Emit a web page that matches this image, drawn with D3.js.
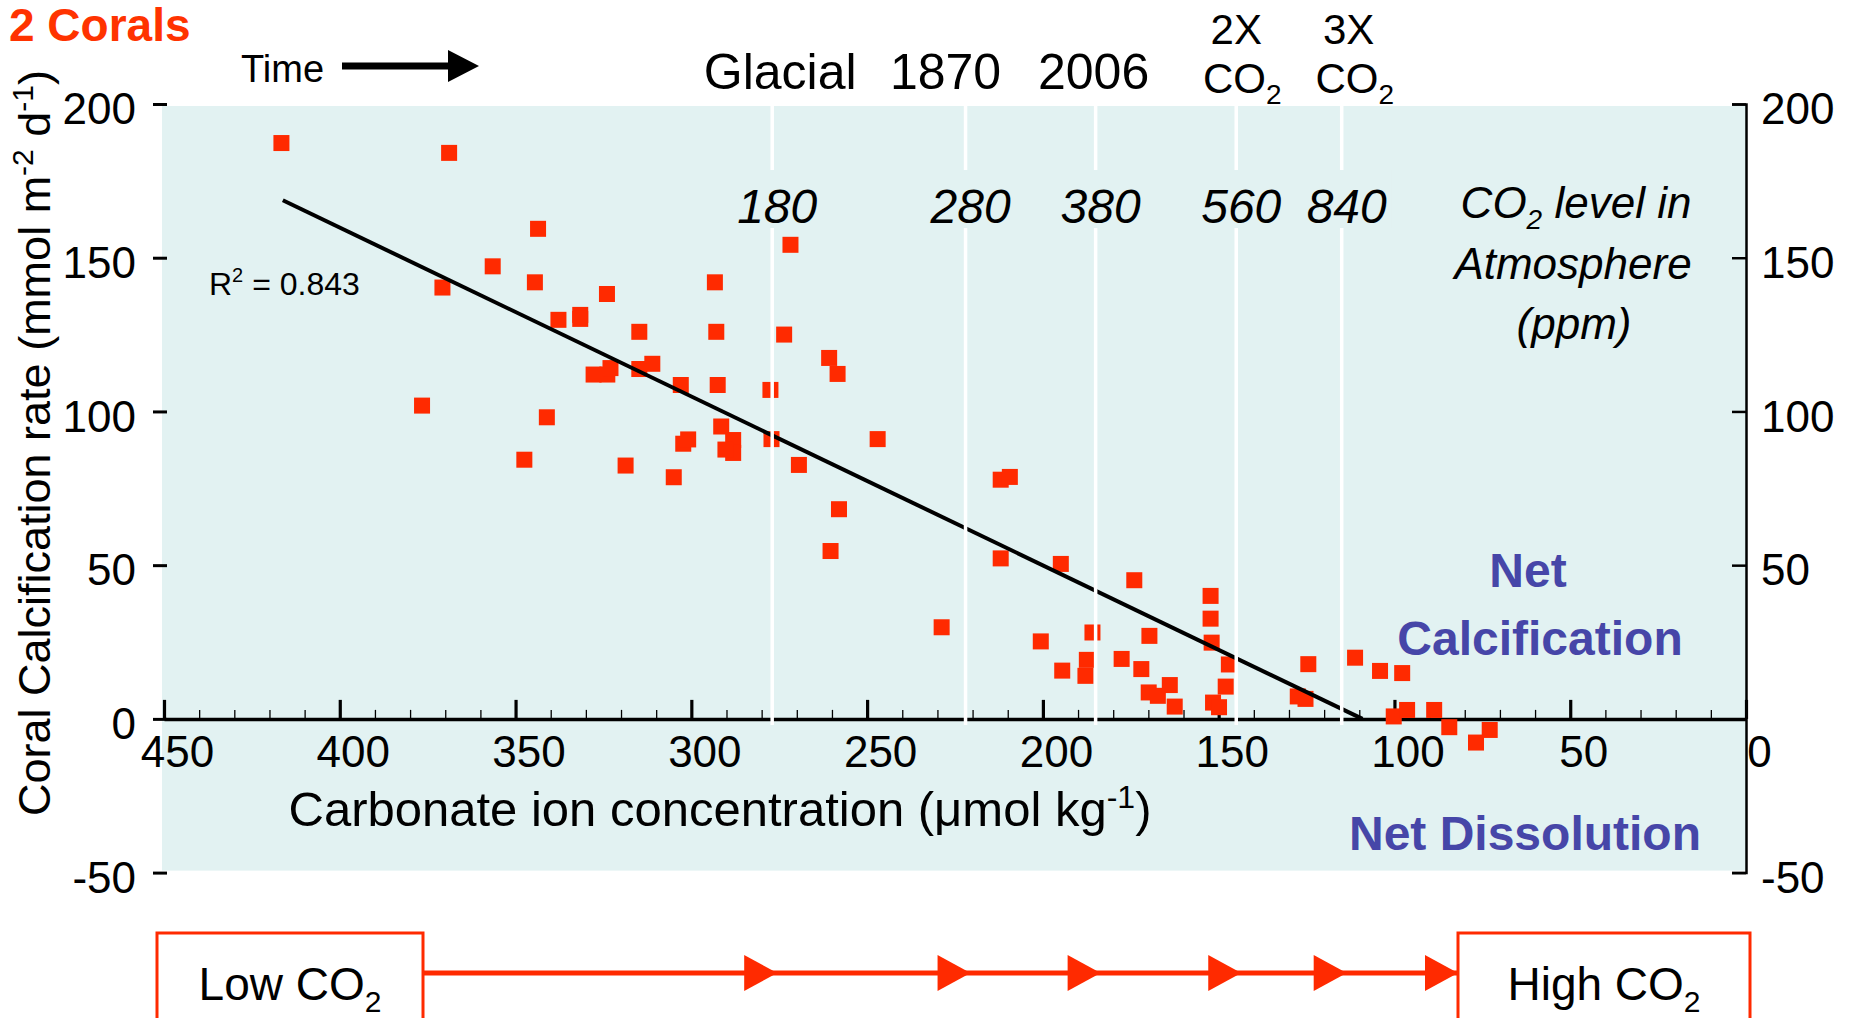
<!DOCTYPE html>
<html>
<head>
<meta charset="utf-8">
<script src="https://cdn.jsdelivr.net/npm/d3@7"></script>
<style>
  html, body { margin: 0; padding: 0; background: #ffffff; }
  svg { display: block; font-family: "Liberation Sans", Arial, sans-serif; }
</style>
</head>
<body>
<svg id="chart" width="1854" height="1018"></svg>
<script>
// Carbonate ion concentration (µmol/kg) and coral calcification rate (mmol m-2 d-1)
const carbonateIon = [416.6,368.9,343.6,356.5,344.5,370.8,324.0,337.8,331.6,331.6,
  314.8,327.8,323.9,323.0,314.8,311.1,303.0,376.6,341.1,347.5,
  318.7,305.0,302.3,300.9,271.8,293.3,292.9,273.6,260.8,258.4,
  292.5,277.5,291.5,288.1,288.1,290.3,277.2,269.4,247.0,258.0,
  260.4,212.0,209.4,212.0,194.9,174.0,152.3,152.3,152.0,147.1,
  148.0,151.6,149.9,228.8,200.6,185.9,194.5,187.5,187.9,177.6,
  172.0,169.7,169.9,167.3,163.9,162.5,124.5,127.5,125.3,111.2,
  104.1,97.8,100.2,96.4,88.7,84.4,76.8,72.9];
const calcRate = [187.3,184.1,159.4,147.2,142.0,140.3,138.2,129.8,131.4,130.1,
  125.9,112.0,112.0,114.1,113.8,115.5,108.6,101.9,98.1,84.3,
  82.4,78.6,89.5,90.9,154.2,142.0,125.9,125.0,117.4,112.2,
  108.6,107.0,95.1,90.7,86.5,87.6,91.0,82.6,91.0,68.2,
  54.6,77.8,78.7,52.2,50.4,45.1,40.0,32.6,24.8,17.7,
  10.5,5.3,3.8,29.8,25.2,28.1,15.7,19.2,14.0,19.5,
  16.2,27.0,8.6,7.5,11.0,4.0,17.8,7.3,6.5,19.9,
  15.6,14.9,0.8,2.9,2.9,-2.7,-7.7,-3.6];

// Linear trendline end points (carbonate, rate)
const trendX = [416.2, 109.1];
const trendY = [168.7, 0];
const rSquared = "0.843";

// Axis ticks
const xTicks = [450, 400, 350, 300, 250, 200, 150, 100, 50, 0];
const xMinorTicks = [440,430,420,410,390,380,370,360,340,330,320,310,290,280,270,260,
  240,230,220,210,190,180,170,160,140,130,120,110,90,80,70,60,40,30,20,10];
const yTicks = [200, 150, 100, 50, 0, -50];
const yRightLabels = [200, 150, 100, 50, -50];

// Atmospheric CO2 milestones and the carbonate level each corresponds to
const co2Periods = ["Glacial", "1870", "2006", "2X", "3X"];
const co2Ppm = ["180", "280", "380", "560", "840"];
const co2Carbonate = [277, 222, 185, 145, 115];

const RED = "#ff2a00";
const BLUE = "#4646a8";
const PLOT_BG = "#e2f2f2";
const plain = d => String(d);

const svg = d3.select("#chart");

const x = d3.scaleLinear().domain([450, 0]).range([164, 1746]);
const y = d3.scaleLinear().domain([-50, 200]).range([872.6, 104]);

// plot area background
svg.append("rect")
  .attr("x", x(450) - 2).attr("y", y(200) + 2)
  .attr("width", x(0) - x(450) + 2).attr("height", y(-50) - y(200) - 4)
  .attr("fill", PLOT_BG);

// x axis drawn along y = 0, ticks pointing up into the plot
const xAxisG = svg.append("g").attr("transform", `translate(0,${y(0)})`);
xAxisG.call(d3.axisBottom(x).tickValues(xMinorTicks).tickSize(-9).tickSizeOuter(0).tickFormat(""))
  .call(g => g.select(".domain").remove())
  .call(g => g.selectAll(".tick line").attr("stroke", "#000").attr("stroke-width", 1.3));
const xMajor = svg.append("g").attr("transform", `translate(0,${y(0)})`)
  .call(d3.axisBottom(x).tickValues(xTicks).tickSize(-19).tickSizeOuter(0).tickPadding(17).tickFormat(plain));
xMajor.select(".domain").attr("stroke", "#000").attr("stroke-width", 3.5);
xMajor.selectAll(".tick line").attr("stroke", "#000").attr("stroke-width", 3.2);
xMajor.selectAll(".tick text")
  .attr("font-size", 44).attr("font-family", "Liberation Sans, Arial, sans-serif")
  .attr("fill", "#000").attr("dx", 13);

// left y axis: short outward ticks, no axis line
const yLeft = svg.append("g").attr("transform", `translate(${x(450) + 3},0)`)
  .call(d3.axisLeft(y).tickValues(yTicks).tickSize(14).tickPadding(17).tickFormat(plain));
yLeft.select(".domain").remove();
yLeft.selectAll(".tick line").attr("stroke", "#000").attr("stroke-width", 3);
yLeft.selectAll(".tick text")
  .attr("font-size", 44).attr("font-family", "Liberation Sans, Arial, sans-serif")
  .attr("fill", "#000").attr("dy", "0.45em");

// right y axis: line with inward ticks, labels outside
const yRight = svg.append("g").attr("transform", `translate(${x(0)},0)`)
  .call(d3.axisLeft(y).tickValues(yTicks).tickSize(14).tickSizeOuter(14).tickFormat(""));
yRight.select(".domain").attr("stroke", "#000").attr("stroke-width", 2.5).attr("fill", "none");
yRight.selectAll(".tick line").attr("stroke", "#000").attr("stroke-width", 2.5);
const yRightText = svg.append("g").attr("transform", `translate(${x(0)},0)`)
  .call(d3.axisRight(y).tickValues(yRightLabels).tickSize(0).tickPadding(15).tickFormat(plain));
yRightText.select(".domain").remove();
yRightText.selectAll(".tick text")
  .attr("font-size", 44).attr("font-family", "Liberation Sans, Arial, sans-serif")
  .attr("fill", "#000").attr("dy", "0.45em");

// data points
svg.append("g").selectAll("rect")
  .data(carbonateIon.map((c, i) => [c, calcRate[i]]))
  .join("rect")
  .attr("x", d => x(d[0]) - 8).attr("y", d => y(d[1]) - 8)
  .attr("width", 16).attr("height", 16)
  .attr("fill", RED);

// trendline
svg.append("path")
  .datum(trendX.map((c, i) => [c, trendY[i]]))
  .attr("d", d3.line().x(d => x(d[0])).y(d => y(d[1])))
  .attr("fill", "none").attr("stroke", "#000").attr("stroke-width", 4);

svg.append("text")
  .attr("x", 209).attr("y", 295)
  .attr("font-size", 32).attr("fill", "#000")
  .call(t => {
    t.append("tspan").text("R");
    t.append("tspan").attr("font-size", 20).attr("dy", -13).text("2");
    t.append("tspan").attr("dy", 13).text(" = " + rSquared);
  });

// white guide lines at the CO2 milestones
svg.append("g").selectAll("line")
  .data(co2Carbonate)
  .join("line")
  .attr("x1", d => x(d)).attr("x2", d => x(d))
  .attr("y1", y(200) + 2).attr("y2", y(0) + 6)
  .attr("stroke", "#ffffff").attr("stroke-width", 3.5);

// ppm labels with their own background boxes
const ppmG = svg.append("g");
ppmG.selectAll("rect")
  .data(co2Carbonate)
  .join("rect")
  .attr("x", d => x(d) - 40).attr("y", 170)
  .attr("width", 90).attr("height", 58)
  .attr("fill", PLOT_BG);
ppmG.selectAll("text")
  .data(co2Carbonate)
  .join("text")
  .attr("x", d => x(d) + 5).attr("y", 223)
  .attr("text-anchor", "middle")
  .attr("font-size", 48).attr("font-style", "italic").attr("fill", "#000")
  .text((d, i) => co2Ppm[i]);

// period headings above the plot
const headG = svg.append("g").attr("fill", "#000").attr("text-anchor", "middle");
const headDx = [8, -20, -2, 0, 7];
co2Carbonate.forEach((c, i) => {
  const cx = x(c) + headDx[i];
  if (i < 3) {
    headG.append("text").attr("x", cx).attr("y", 89).attr("font-size", 50).text(co2Periods[i]);
  } else {
    headG.append("text").attr("x", cx).attr("y", 44).attr("font-size", 42).text(co2Periods[i]);
    headG.append("text").attr("x", cx + 6).attr("y", 93).attr("font-size", 42)
      .call(t => {
        t.append("tspan").text("CO");
        t.append("tspan").attr("font-size", 28).attr("dy", 11).text("2");
      });
  }
});

// right-hand annotation
const annG = svg.append("g").attr("font-size", 44).attr("font-style", "italic")
  .attr("fill", "#000").attr("text-anchor", "middle");
annG.append("text").attr("x", 1576).attr("y", 218)
  .call(t => {
    t.append("tspan").text("CO");
    t.append("tspan").attr("font-size", 28).attr("dy", 11).text("2");
    t.append("tspan").attr("dy", -11).text(" level in");
  });
annG.append("text").attr("x", 1573).attr("y", 279).text("Atmosphere");
annG.append("text").attr("x", 1574).attr("y", 339).text("(ppm)");

const netG = svg.append("g").attr("font-size", 48).attr("font-weight", "bold")
  .attr("fill", BLUE).attr("text-anchor", "middle");
netG.append("text").attr("x", 1528).attr("y", 587).text("Net");
netG.append("text").attr("x", 1540).attr("y", 655).text("Calcification");
netG.append("text").attr("x", 1525).attr("y", 850).text("Net Dissolution");

// axis titles
svg.append("text")
  .attr("x", 720).attr("y", 826)
  .attr("text-anchor", "middle").attr("font-size", 49).attr("fill", "#000")
  .call(t => {
    t.append("tspan").text("Carbonate ion concentration (\u03bcmol kg");
    t.append("tspan").attr("font-size", 32).attr("dy", -18).text("-1");
    t.append("tspan").attr("dy", 18).text(")");
  });

svg.append("text")
  .attr("transform", "translate(50,443) rotate(-90)")
  .attr("text-anchor", "middle").attr("font-size", 45).attr("fill", "#000")
  .call(t => {
    t.append("tspan").text("Coral Calcification rate (mmol m");
    t.append("tspan").attr("font-size", 30).attr("dy", -17).text("-2");
    t.append("tspan").attr("dy", 17).text(" d");
    t.append("tspan").attr("font-size", 30).attr("dy", -17).text("-1");
    t.append("tspan").attr("dy", 17).text(")");
  });

// title and time arrow
svg.append("text").attr("x", 9).attr("y", 41)
  .attr("font-size", 46).attr("font-weight", "bold").attr("fill", "#ff3300")
  .text("2 Corals");

svg.append("text").attr("x", 241).attr("y", 82)
  .attr("font-size", 38).attr("fill", "#000").text("Time");
svg.append("line").attr("x1", 342).attr("x2", 452).attr("y1", 66).attr("y2", 66)
  .attr("stroke", "#000").attr("stroke-width", 7);
svg.append("path").attr("d", "M448,50L479,66L448,82Z").attr("fill", "#000");

// Low → High CO2 arrow strip
const stripY = 973;
const boxes = [
  { x0: 157, x1: 423, label: "Low CO" },
  { x0: 1458, x1: 1750, label: "High CO" }
];
svg.append("line").attr("x1", boxes[0].x1).attr("x2", boxes[1].x0)
  .attr("y1", stripY).attr("y2", stripY)
  .attr("stroke", RED).attr("stroke-width", 5);
const tips = co2Carbonate.map(c => x(c) + 5).concat([boxes[1].x0]);
svg.append("g").selectAll("path")
  .data(tips)
  .join("path")
  .attr("d", t => `M${t},${stripY}L${t - 33},${stripY - 18}L${t - 33},${stripY + 18}Z`)
  .attr("fill", RED);
boxes.forEach(b => {
  svg.append("rect").attr("x", b.x0).attr("y", 933)
    .attr("width", b.x1 - b.x0).attr("height", 120)
    .attr("fill", "#fff").attr("stroke", RED).attr("stroke-width", 3);
  svg.append("text").attr("x", (b.x0 + b.x1) / 2).attr("y", 1000)
    .attr("text-anchor", "middle").attr("font-size", 46).attr("fill", "#000")
    .call(t => {
      t.append("tspan").text(b.label);
      t.append("tspan").attr("font-size", 30).attr("dy", 12).text("2");
    });
});
</script>
</body>
</html>
